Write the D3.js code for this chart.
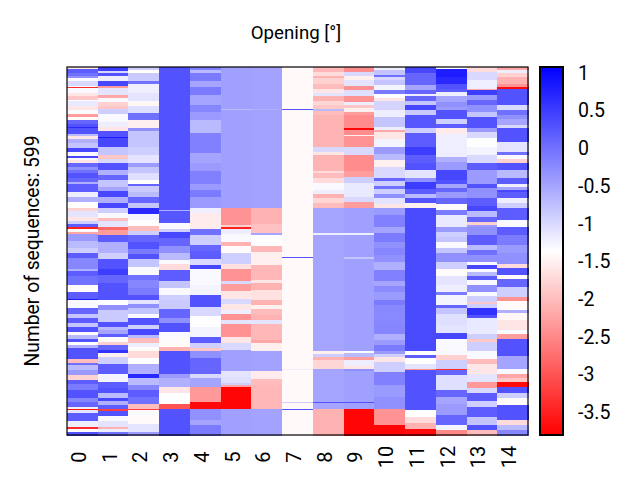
<!DOCTYPE html>
<html><head><meta charset="utf-8">
<script src="https://cdn.jsdelivr.net/npm/d3@7/dist/d3.min.js"></script>
<style>html,body{margin:0;background:#fff}svg{display:block}text{font-family:Roboto,sans-serif;fill:#000}</style>
</head><body><div id="c"></div>
<script>
// each column: runs of [last sequence index, value]
const col0=[[3,-1.6],[9,.2],[14,0],[18,-.3],[23,-1.3],[31,-1],[32,-1.3],[34,-3.4],[42,-1.3],[47,-1.6],[54,-1.9],[56,-1.4],[63,-1.15],[70,-1.6],[77,-1.3],[82,-2.3],[86,-1.4],[93,.1],[97,.3],[99,.7],[109,.3],[113,-.7],[117,-1.6],[124,-.6],[132,-.8],[138,.4],[145,-1.3],[148,.4],[151,-1.3],[156,-1.6],[163,.1],[168,-.3],[173,0],[181,.3],[187,.1],[190,-.6],[204,.2],[211,-1.2],[219,-.6],[229,-1.35],[234,-1.8],[244,-1.1],[251,-1.6],[256,-.9],[260,.2],[264,-3.5],[268,-1.4],[272,-2.2],[284,-.4],[295,-.7],[303,-.9],[311,.2],[328,-.2],[332,-.6],[341,.2],[355,0],[366,-1.4],[377,.2],[380,.8],[393,-1.3],[402,.1],[408,-.8],[416,.2],[423,-.8],[431,.3],[436,-1.4],[443,-.7],[447,.3],[453,-1.35],[458,-.6],[475,.3],[481,-2],[485,0],[493,-.7],[501,-.4],[509,-1.8],[516,.2],[526,-.1],[539,.3],[546,-.2],[553,.1],[557,-1.2],[559,-3.6],[564,-1.1],[577,.2],[586,-1.2],[590,-3.4],[594,-1.4],[599,.3]];
const col1=[[7,.5],[9,-1],[14,.3],[22,-1.2],[31,.4],[34,-2.3],[45,-1.1],[51,-2.2],[57,-1.3],[63,-1.8],[69,-1.9],[77,-.9],[89,-1.3],[97,-1.2],[104,-1.6],[114,.3],[116,.8],[131,.4],[143,-.8],[149,-1.9],[157,-1],[168,.3],[176,-.6],[184,.1],[195,-.8],[202,-.5],[211,.4],[222,-.6],[230,.4],[238,-.9],[245,-1.3],[250,-2],[260,-1.1],[265,-2.8],[273,-2.3],[285,.2],[303,-.6],[312,-.9],[328,.3],[339,.5],[352,.1],[366,.3],[379,.3],[387,-1.35],[396,-.3],[415,-.85],[424,.3],[428,-.7],[435,-.5],[440,.2],[447,-1.4],[453,-1.8],[461,.1],[465,.6],[472,-1.5],[483,-.9],[499,.2],[512,-1.25],[523,.2],[531,.3],[538,-.7],[543,.4],[550,-.6],[557,.2],[560,-3.2],[568,.3],[577,-1.3],[586,-1.1],[590,-2.1],[594,-1.2],[599,0]];
const col2=[[5,-.9],[9,-1.35],[22,-.85],[28,0],[43,-1.2],[56,-1.1],[63,-1.45],[75,-1.05],[86,0],[100,-1.5],[104,-.3],[131,-.8],[143,-.9],[157,-1.1],[163,-.4],[172,-.8],[184,-1.05],[191,-1.35],[193,.1],[204,-.85],[212,-.7],[222,.1],[229,-.8],[240,.7],[249,-1.25],[258,-1.35],[267,-2],[273,-.9],[285,.1],[296,.3],[304,-.1],[312,.3],[325,-.8],[339,-1.3],[347,0],[360,-.2],[371,-.1],[379,.3],[385,-1.1],[393,-.3],[402,-.8],[408,-1.3],[420,.3],[426,-.9],[436,.4],[441,-.7],[449,-2],[455,-1.2],[463,-1.4],[473,-1.7],[483,-1.35],[499,-.6],[507,.7],[518,-.7],[526,-.2],[537,.2],[548,0],[556,-2],[559,-3.2],[567,-1.3],[581,-1.4],[594,-1.1],[599,-.4]];
const col3=[[233,.3],[234,-.6],[254,.25],[263,-1.3],[268,-.9],[278,.4],[292,.1],[303,-.3],[314,-.7],[321,-1.3],[330,-1.7],[349,.2],[360,-.8],[371,-1.3],[379,-.9],[394,-.85],[409,.1],[417,-.3],[432,.3],[440,-1.3],[456,-1.4],[462,-2.1],[499,.3],[507,-.4],[521,-.6],[531,-1.6],[548,-1.35],[557,-3],[599,.3]];
const col4=[[5,-.15],[9,-.7],[22,-.1],[33,-.5],[46,-.1],[62,-.5],[73,-.2],[86,-.4],[107,-.7],[140,-.15],[157,-.5],[170,-.4],[190,-.15],[200,-.4],[212,-.1],[229,-.4],[238,-1.2],[263,-1.55],[273,0],[290,-.9],[300,.1],[312,.2],[323,-1],[329,.4],[355,-1.3],[371,-1.25],[390,.3],[406,-1],[423,-1.35],[440,-1.25],[450,.2],[458,-.9],[462,-1.9],[474,-.3],[499,.1],[507,-1],[521,-.5],[546,-2.35],[557,-3.7],[575,-.3],[583,-.5],[599,-.1]];
const col5=[[68,-.45],[70,-.7],[229,-.45],[257,-2.4],[261,-1.8],[264,-3.5],[272,-1.2],[285,-1.3],[291,-2.1],[303,-1.4],[320,-.9],[329,-1.65],[348,-2.4],[353,-1],[365,-2.3],[377,-1.6],[385,-1],[396,-1.6],[402,-1.2],[411,-2.4],[418,-1.1],[440,-2.4],[450,-1.6],[461,-1],[495,-.45],[504,-1.1],[514,-1.05],[517,-.9],[521,-2.2],[557,-3.75],[599,-.45]];
const col6=[[68,-.48],[70,-.6],[229,-.48],[256,-2.1],[270,-1.95],[273,-.5],[291,-1.35],[301,-2.05],[323,-1.5],[347,-2.05],[352,-1.6],[363,-2.1],[379,-1.65],[387,-2.1],[394,-1.5],[404,-2],[411,-2.1],[418,-1.1],[444,-2.05],[450,-2.2],[462,-1.5],[495,-.48],[508,-1.55],[518,-2],[557,-2.05],[599,-.48]];
const col7=[[68,-1.42],[70,.3],[310,-1.42],[311,.3],[491,-1.42],[493,-1.2],[545,-1.42],[547,-.9],[556,-1.42],[558,.3],[599,-1.42]];
const col8=[[8,-2.05],[14,-1.7],[18,-2.1],[27,-1.8],[35,-2],[43,-1.6],[47,-1.1],[55,-2.1],[62,-1.75],[69,-1.9],[71,-.7],[78,-2],[131,-2.08],[138,-1],[143,-1.6],[170,-2.08],[173,-1.7],[180,-2],[189,-1.7],[200,-1.3],[207,-1.2],[213,-2.1],[222,-1.75],[229,-2],[271,-.5],[273,-1.2],[462,-.5],[467,-1.5],[472,-.9],[477,-2.1],[492,-1.75],[545,-.5],[547,.3],[557,-.5],[599,-2.1]];
const col9=[[8,-2.45],[14,-1],[21,-1.5],[31,-1.1],[37,-2.4],[47,-1.05],[57,-2.4],[62,-1.2],[67,-1.9],[73,-1.5],[78,-2.3],[100,-2.45],[103,-3.75],[111,-2.45],[113,-1.5],[131,-2.4],[143,-1],[170,-2.45],[179,-2.3],[189,-.9],[211,-1.15],[219,-1],[229,-2.3],[271,-.45],[273,-1.2],[310,-.45],[312,-.8],[462,-.45],[465,-1.3],[472,-.7],[477,-2.3],[487,-1.2],[492,-1.6],[495,-.3],[545,-.45],[547,.3],[557,-.45],[599,-3.75]];
const col10=[[5,-1.2],[13,-.8],[17,0],[21,-1],[29,-.8],[38,-1.25],[44,-.1],[51,-1.35],[56,-1.6],[70,-.95],[81,-1.2],[97,-.8],[103,-1.2],[105,-2.2],[118,-1.6],[131,-1.25],[142,-.4],[151,-.7],[163,-1.5],[180,-1],[185,.1],[194,-.9],[198,0],[206,-.9],[214,-.3],[223,-1.1],[229,-1.6],[241,-.4],[260,-.15],[271,-.5],[285,-.1],[295,-.3],[306,-.2],[318,-.3],[331,-.6],[348,-.15],[357,-.5],[367,-.25],[379,-.4],[387,-.1],[417,-.22],[434,-.2],[444,-.6],[453,-.4],[462,-.1],[467,-.4],[472,-.9],[480,-1.6],[496,-.9],[518,-.15],[537,-.4],[557,-.3],[583,-2.4],[599,-3.75]];
const col11=[[10,.4],[29,.1],[38,-.5],[44,.1],[47,-1.2],[55,.1],[62,-.8],[70,.4],[78,-.85],[100,.25],[107,-.9],[131,.2],[143,.5],[157,.2],[168,.3],[180,-1.1],[187,-.3],[198,.5],[206,.2],[214,-.7],[222,.3],[229,-1.5],[462,.37],[469,-1.35],[473,.2],[483,-1.35],[491,-1.1],[494,-2.4],[558,.3],[569,-1.35],[580,-1.7],[589,-2.1],[599,-3.7]];
const col12=[[3,-1.35],[16,.8],[28,.7],[35,.3],[41,.2],[47,-1.2],[57,-.5],[65,-.3],[70,-.4],[84,.3],[92,-.9],[100,.2],[109,-1.55],[146,-1.2],[154,-.6],[168,-.4],[184,.4],[190,.3],[197,-.5],[204,.1],[214,-.4],[223,.1],[233,-1.4],[241,-.1],[260,-1.15],[268,-.4],[276,-.9],[285,-.8],[295,-1.3],[303,-.8],[318,-.3],[328,-.9],[341,-1.4],[355,-1.1],[366,-1.2],[371,-.1],[387,-1.25],[392,.1],[402,-.8],[420,-1.05],[433,-1.1],[442,.4],[469,-1.3],[477,-1.8],[491,-.9],[494,-3.4],[501,.1],[526,-1.05],[537,.1],[548,-.5],[567,-.4],[583,.1],[591,-1.25],[599,-2.5]];
const col13=[[8,-1.7],[21,-1],[35,-1.2],[38,-2.2],[46,.5],[54,-.4],[62,.1],[73,-.3],[82,-.8],[100,.3],[105,-.4],[115,-1],[131,-1.35],[143,-1.25],[157,-1],[168,.2],[190,-.4],[197,.3],[214,-.3],[226,.2],[234,.4],[244,-.7],[252,.1],[257,-1.8],[261,-.4],[273,-.3],[289,.2],[298,-.7],[306,0],[318,-.3],[323,-1.3],[328,.4],[334,-1.3],[340,-.7],[347,.2],[355,-1.3],[366,-.3],[372,-1.3],[382,-.9],[386,-1.9],[393,-.9],[404,.6],[409,.3],[434,-1.15],[442,-.9],[447,-1.9],[462,-.9],[475,-1.3],[483,-2],[499,-1.6],[512,-1.1],[523,-2.35],[531,-1],[543,.2],[553,-.9],[569,.2],[583,-.8],[591,.3],[599,-2]];
const col14=[[5,-2.2],[10,-1.2],[17,-1.8],[28,-2.1],[33,-2.4],[36,-3.7],[62,.3],[70,-1],[78,0],[85,-.3],[94,-.5],[100,-1],[122,.3],[138,-1.1],[143,0],[149,-1.3],[156,-1.8],[168,.3],[180,-.7],[190,.2],[195,-1.2],[200,-.5],[204,.4],[214,.2],[222,-1.2],[230,-.9],[249,.2],[260,-1.3],[273,.2],[290,-.1],[303,-.4],[320,-.3],[327,-1.7],[339,.3],[345,-1.4],[358,.1],[374,-.9],[381,-2.4],[396,-1.4],[401,-.6],[412,-1.45],[428,-1.6],[434,-1.3],[442,-2.3],[470,.3],[491,-.5],[499,-1.3],[507,-2.2],[512,-1.9],[521,-3.7],[530,.3],[539,-.9],[550,-1.4],[575,.3],[583,-1.7],[591,-.7],[599,-.2]];
const columns=[col0,col1,col2,col3,col4,col5,col6,col7,col8,col9,col10,col11,col12,col13,col14];
const categories=d3.range(15).map(String);
const colorTicks=[1,.5,0,-.5,-1,-1.5,-2,-2.5,-3,-3.5];
const seqCount=599, vMin=-3.8, vMax=1.08;
const title="Opening [°]", yTitle="Number of sequences: 599";

const svg=d3.select("#c").append("svg").attr("width",640).attr("height",480);
const m={l:67,r:528,t:67,b:435};
const x=d3.scaleBand().domain(categories).range([m.l,m.r]);
const y=d3.scaleLinear().domain([0,seqCount]).range([m.t,m.b]);
const color=d3.scaleLinear().domain([vMin,(vMin+vMax)/2,vMax]).range(["#ff0000","#ffffff","#0000ff"]);

const g=svg.append("g").attr("shape-rendering","crispEdges");
columns.forEach((runs,i)=>{
  let start=0;
  runs.forEach(([end,v])=>{
    g.append("rect").attr("x",x(categories[i])).attr("width",x.bandwidth()+.5)
     .attr("y",y(start)).attr("height",y(end)-y(start)+.5).attr("fill",color(v));
    start=end;
  });
});
svg.append("rect").attr("x",m.l).attr("y",m.t).attr("width",m.r-m.l).attr("height",m.b-m.t)
  .attr("fill","none").attr("stroke","#000").attr("stroke-width",1.2);

const xAxis=d3.axisBottom(x).tickSize(0);
const gx=svg.append("g").attr("transform",`translate(0,${m.b})`).call(xAxis);
gx.select(".domain").remove();
gx.selectAll("text").attr("font-size",20).attr("text-anchor","middle").attr("dy",null)
  .attr("transform","translate(3.5,22) rotate(-90)").attr("y",0).attr("x",0);

// colour bar
const cbx=540, cbw=23;
const cy=d3.scaleLinear().domain([vMax,vMin]).range([m.t,m.b]);
const defs=svg.append("defs").append("linearGradient").attr("id","cb").attr("x1",0).attr("x2",0).attr("y1",0).attr("y2",1);
[0,.5,1].forEach(t=>defs.append("stop").attr("offset",t).attr("stop-color",color(vMax+(vMin-vMax)*t)));
svg.append("rect").attr("x",cbx).attr("y",m.t).attr("width",cbw).attr("height",m.b-m.t)
  .attr("fill","url(#cb)").attr("stroke","#000").attr("stroke-width",1.2).attr("shape-rendering","crispEdges");
const gc=svg.append("g").attr("transform",`translate(${cbx+cbw},0)`)
  .call(d3.axisRight(cy).tickValues(colorTicks).tickSize(0).tickPadding(15).tickFormat(d=>d3.format("")(d).replace("−","-")));
gc.select(".domain").remove();
gc.selectAll("text").attr("font-size",19.5);

svg.append("text").attr("x",296).attr("y",39).attr("text-anchor","middle").attr("font-size",18.7).text(title);
svg.append("text").attr("transform","translate(39,251) rotate(-90)").attr("text-anchor","middle").attr("font-size",19.3).text(yTitle);
</script></body></html>
